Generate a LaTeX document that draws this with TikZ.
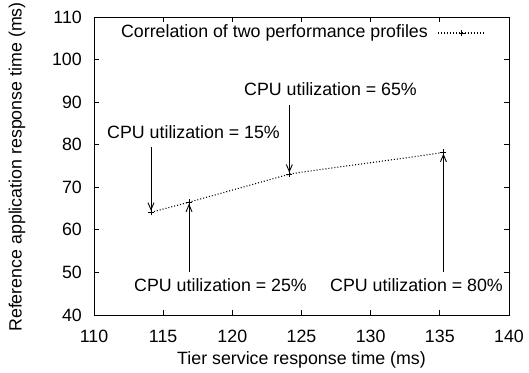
\documentclass[tikz,border=0pt]{standalone}
\usepackage{fontspec}
\setmainfont{Liberation Sans}
\usetikzlibrary{arrows.meta}
\begin{document}
\begin{tikzpicture}[x=1pt,y=1pt,
  txt/.style={font=\fontsize{17.8}{20}\selectfont, inner sep=0pt},
  frameline/.style={line width=0.9pt, black},
  tickline/.style={line width=0.8pt, black},
  curveline/.style={line width=1.1pt, dash pattern=on 1pt off 2pt},
  markline/.style={line width=0.9pt},
  arr/.style={line width=0.9pt, -{Straight Barb[length=7pt,width=6pt,line width=0.9pt]}, shorten >=1.5pt}]
\useasboundingbox (0,0) rectangle (529,372);
\begin{scope}[shift={(94,57)}, x=13.8333pt, y=4.2571pt]
  \draw[frameline] (0,0) rectangle (30,70);
  \foreach \t in {5,10,...,25} {
    \draw[tickline] (\t,0) -- ++(0,5pt);
    \draw[tickline] (\t,70) -- ++(0,-5pt);
  }
  \foreach \t in {10,20,...,60} {
    \draw[tickline] (0,\t) -- ++(5pt,0);
    \draw[tickline] (30,\t) -- ++(-5pt,0);
  }
  \foreach \v [count=\i from 0] in {110,115,120,125,130,135,140}
    \node[txt, yshift=-21pt] (xt\i) at (\i*5,0) {\v};
  \foreach \v [count=\i from 0] in {40,50,60,70,80,90,100,110}
    \node[txt, anchor=east, xshift=-12pt] (yt\i) at (0,\i*10) {\v};
  \coordinate (p1) at (4.12,24.12);
  \coordinate (p2) at (6.87,26.5);
  \coordinate (p3) at (14.12,33.08);
  \coordinate (p4) at (25.26,38.25);
\end{scope}
\draw[curveline] (p1) -- (p2) -- (p3) .. controls +(3,1.3) and +(-4,-1.7) .. (p4);
\foreach \p in {p1,p2,p3,p4}
  \draw[markline] (\p) +(-3pt,0) -- +(3pt,0) (\p) +(0,-3pt) -- +(0,3pt);
% axis labels
\node[txt] (xlab) at (301.5,12) {Tier service response time (ms)};
\node[txt, rotate=90] (ylab) at (17,205) {Reference application response time (ms)};
% annotations
\node[txt, anchor=west] (l15) at (107,239.5) {CPU utilization = 15\%};
\node[txt, anchor=west] (l65) at (244,283) {CPU utilization = 65\%};
\node[txt, anchor=west] (l25) at (134,87) {CPU utilization = 25\%};
\node[txt, anchor=west] (l80) at (330,87) {CPU utilization = 80\%};
\coordinate (s15) at (0,225);
\coordinate (s65) at (0,267);
\coordinate (s25) at (0,100);
\coordinate (s80) at (0,100);
\draw[arr] (p1 |- s15) -- (p1);
\draw[arr] (p3 |- s65) -- (p3);
\draw[arr] (p2 |- s25) -- (p2);
\draw[arr] (p4 |- s80) -- (p4);
% legend
\node[txt, anchor=east] (leg) at (428,339) {Correlation of two performance profiles};
\coordinate (lg1) at (438,339);
\coordinate (lg2) at (485,339);
\coordinate (lgm) at (461.5,339);
\draw[curveline] (lg1) -- (lg2);
\draw[markline] (lgm) +(-3pt,0) -- +(3pt,0) (lgm) +(0,-3pt) -- +(0,3pt);
\end{tikzpicture}
\end{document}
